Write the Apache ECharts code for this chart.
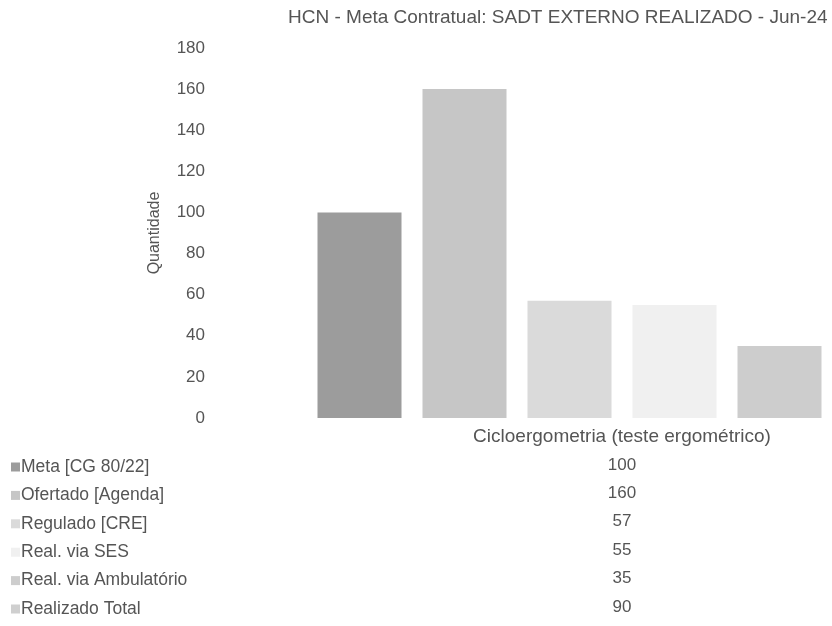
<!DOCTYPE html>
<html>
<head>
<meta charset="utf-8">
<script src="https://cdn.jsdelivr.net/npm/echarts@6/dist/echarts.min.js"></script>
<style>
  html, body { margin: 0; padding: 0; background: #fff; }
  #chart { width: 832px; height: 626px; }
</style>
</head>
<body>
<div id="chart"></div>
<script>
const titleText = "HCN - Meta Contratual: SADT EXTERNO REALIZADO - Jun-24";
const categories = ["Cicloergometria (teste ergométrico)"];
const seriesNames = [
  "Meta [CG 80/22]",
  "Ofertado [Agenda]",
  "Regulado [CRE]",
  "Real. via SES",
  "Real. via Ambulatório",
  "Realizado Total"
];
const seriesValues = [100, 160, 57, 55, 35, 90];
const seriesColors = ["#9c9c9c", "#c6c6c6", "#dadada", "#f0f0f0", "#cdcdcd", "#cfcfcf"];

const rowTop = 465;
const rowStep = 28.4;
const font = "Liberation Sans, Arial, sans-serif";

const myChart = echarts.init(document.getElementById("chart"));

const series = seriesNames.map((name, i) => ({
  name: name,
  type: "bar",
  data: [seriesValues[i]],
  barWidth: 84,
  barGap: "25%",
  itemStyle: { color: seriesColors[i] },
}));

// values column of the data table
const tableValues = seriesValues.map((v, i) => ({
  type: "text",
  x: 622,
  y: rowTop + i * rowStep,
  style: {
    text: String(v),
    fontSize: 17,
    fontFamily: font,
    fill: "#555",
    align: "center",
    verticalAlign: "middle",
  },
}));

const option = {
  animation: false,
  title: {
    text: titleText,
    left: 283,
    top: 3,
    textStyle: {
      fontSize: 19,
      fontWeight: "normal",
      color: "#555",
      fontFamily: font,
    },
  },
  legend: {
    orient: "vertical",
    left: 6,
    top: rowTop - 13,
    itemGap: 8.4,
    itemWidth: 9,
    itemHeight: 9,
    icon: "rect",
    textStyle: {
      fontSize: 17.5,
      lineHeight: 20,
      color: "#555",
      fontFamily: font,
      padding: [0, 0, 0, -4],
    },
    data: seriesNames,
  },
  grid: {
    left: 215,
    top: 48,
    width: 814,
    bottom: 208,
    outerBoundsMode: "none",
  },
  xAxis: {
    type: "category",
    data: categories,
    axisLine: { show: false },
    axisTick: { show: false },
    axisLabel: {
      margin: 9,
      fontSize: 19,
      color: "#555",
      fontFamily: font,
    },
  },
  yAxis: {
    type: "value",
    min: 0,
    max: 180,
    interval: 20,
    name: "Quantidade",
    nameLocation: "middle",
    nameGap: 52,
    nameTextStyle: {
      fontSize: 16,
      color: "#555",
      fontFamily: font,
    },
    splitLine: { show: false },
    axisLine: { show: false },
    axisTick: { show: false },
    axisLabel: {
      margin: 10,
      fontSize: 17,
      color: "#555",
      fontFamily: font,
    },
  },
  series: series,
  graphic: tableValues,
};
myChart.setOption(option);
</script>
</body>
</html>
